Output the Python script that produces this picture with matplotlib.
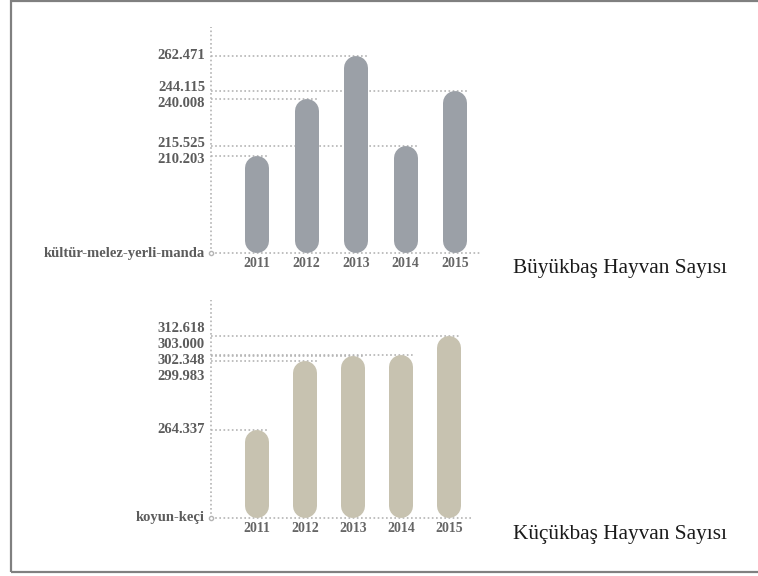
import numpy as np
import matplotlib
matplotlib.use('Agg')
import matplotlib.pyplot as plt
from matplotlib.patches import Rectangle

# Chart data.
years = ['2011', '2012', '2013', '2014', '2015']
buyukbas = [210203, 240008, 262471, 215525, 244115]
kucukbas = [264337, 299983, 302348, 303000, 312618]
buyukbas_label = 'kültür-melez-yerli-manda'
kucukbas_label = 'koyun-keçi'
buyukbas_title = 'Büyükbaş Hayvan Sayısı'
kucukbas_title = 'Küçükbaş Hayvan Sayısı'

W, H, DPI = 758, 576, 100
fig = plt.figure(figsize=(W / DPI, H / DPI), dpi=DPI)

serif = ['Liberation Serif', 'DejaVu Serif']
dot_color = '#b4b4b4'
label_color = '#5c5c5c'
bar_px = 24


def fmt(v):
    return '{:,.0f}'.format(v).replace(',', '.')


def draw_panel(rect, values, xlim, ylim, color, base_label):
    ax = fig.add_axes(rect)
    ax.set_xlim(xlim)
    ax.set_ylim(ylim)
    ax.axis('off')

    px_per_unit = rect[3] * H / (ylim[1] - ylim[0])
    px_per_x = rect[2] * W / (xlim[1] - xlim[0])
    r = (bar_px / 2) / px_per_unit
    half_w = (bar_px / 2) / px_per_x
    lab_x = xlim[0] - 6 / px_per_x

    # Axis lines.
    ax.plot([xlim[0], xlim[0]], ylim, color=dot_color, lw=1.2, ls=(0, (1, 1.5)), clip_on=False)
    ax.plot(xlim, [ylim[0], ylim[0]], color=dot_color, lw=1.2, ls=(0, (1, 1.5)), clip_on=False)
    ax.plot(xlim[0], ylim[0], 'o', mfc='white', mec=dot_color, ms=3, clip_on=False)

    # Bars with round ends.
    for i, v in enumerate(values):
        ax.hlines(v, xlim[0], i + half_w, color=dot_color, lw=1.2, ls=(0, (1, 1.5)))
        ax.plot([i, i], [ylim[0] + r, v - r], color=color, lw=bar_px * 72 / DPI,
                solid_capstyle='round', zorder=3)
        ax.text(i, ylim[0] - 4 / px_per_unit, years[i], ha='center', va='top',
                family=serif, weight='bold', fontsize=10, color='#666666')

    # Value labels, pushed apart where they would collide.
    order = np.argsort(values)
    pos = np.array([values[k] * px_per_unit for k in order], dtype=float)
    gap = 16
    for _ in range(300):
        moved = False
        for j in range(1, len(pos)):
            d = pos[j] - pos[j - 1]
            if d < gap - 0.01:
                shift = (gap - d) / 2
                pos[j] += shift
                pos[j - 1] -= shift
                moved = True
        if not moved:
            break
    for j, k in enumerate(order):
        ax.text(lab_x, pos[j] / px_per_unit, fmt(values[k]), ha='right', va='center',
                family=serif, weight='bold', fontsize=10.5, color=label_color)

    ax.text(lab_x, ylim[0], base_label, ha='right', va='center', family=serif,
            weight='bold', fontsize=10.5, color=label_color)
    return ax


draw_panel([211 / W, (H - 253) / H, 269 / W, 226 / H], buyukbas,
           (-0.927, 4.5), (160200, 277300), '#9ba0a7', buyukbas_label)
draw_panel([211 / W, (H - 518) / H, 261 / W, 218 / H], kucukbas,
           (-0.958, 4.479), (218500, 331500), '#c7c2b0', kucukbas_label)

fig.text(513 / W, 1 - 268 / H, buyukbas_title, ha='left', va='center',
         family=serif, fontsize=15.3, color='#1a1a1a')
fig.text(513 / W, 1 - 535 / H, kucukbas_title, ha='left', va='center',
         family=serif, fontsize=15.3, color='#1a1a1a')

# Outer frame, open on the right.
fig.add_artist(Rectangle((10.5 / W, 4.5 / H), 1.0, 1 - 5.0 / H, transform=fig.transFigure,
                         fill=False, edgecolor='#808080', lw=1.6, clip_on=False))

fig.savefig('out.png', dpi=DPI)
